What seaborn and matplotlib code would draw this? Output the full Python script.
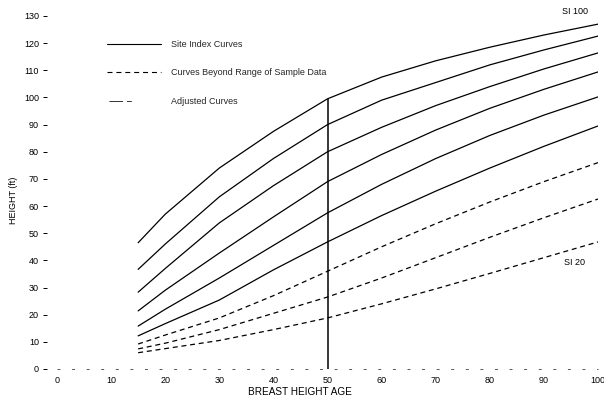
import matplotlib
matplotlib.use("Agg")
import matplotlib.pyplot as plt
from matplotlib.lines import Line2D
import seaborn as sns
import pandas as pd

sns.set_theme(style="white")
plt.rcParams['font.family'] = ['Liberation Sans', 'DejaVu Sans']

ages = [15, 20, 30, 40, 50, 60, 70, 80, 90, 100]
site_index = [100, 90, 80, 70, 60, 50, 40, 30, 20]
curve_type = ["Site Index Curves"] * 6 + ["Curves Beyond Range of Sample Data"] * 3
heights = {
    100: [46.5, 57.0, 74.0, 87.5, 99.5, 107.5, 113.5, 118.5, 123.0, 127.0],
    90:  [36.7, 46.0, 63.4, 77.5, 90.0, 99.0, 105.5, 112.0, 117.5, 122.6],
    80:  [28.3, 37.0, 53.8, 67.5, 80.0, 89.0, 97.0, 104.0, 110.5, 116.4],
    70:  [21.4, 29.0, 42.7, 56.0, 69.0, 79.0, 88.0, 96.0, 103.0, 109.4],
    60:  [15.8, 22.0, 33.5, 45.5, 57.5, 68.0, 77.5, 86.0, 93.5, 100.2],
    50:  [12.2, 16.7, 25.4, 36.5, 46.8, 56.5, 65.5, 74.0, 82.0, 89.5],
    40:  [9.2, 12.5, 18.8, 27.0, 36.0, 45.0, 53.5, 61.5, 69.0, 76.0],
    30:  [7.4, 9.5, 14.5, 20.5, 26.5, 33.5, 41.0, 48.5, 55.7, 62.6],
    20:  [6.0, 7.5, 10.5, 14.5, 18.8, 24.0, 29.5, 35.2, 41.0, 46.8],
}
legend_labels = ["Site Index Curves", "Curves Beyond Range of Sample Data", "Adjusted Curves"]
x_ticks = list(range(0, 101, 10))
y_ticks = list(range(0, 131, 10))
reference_age = 50

rows = []
for si, ctype in zip(site_index, curve_type):
    for a, h in zip(ages, heights[si]):
        rows.append({"age": a, "height": h, "si": si, "type": ctype})
df = pd.DataFrame(rows)

fig = plt.figure(figsize=(6.04, 3.96), dpi=100)
ax = fig.add_axes([57 / 604, 1 - 369 / 396, 541 / 604, 353 / 396])

sns.lineplot(data=df, x="age", y="height", units="si", estimator=None,
             style="type", style_order=legend_labels[:2],
             dashes={legend_labels[0]: "", legend_labels[1]: (4, 3)},
             color="black", linewidth=0.9, legend=False, ax=ax)

ax.vlines(reference_age, 0, heights[100][ages.index(reference_age)], color="black", linewidth=1.1)
ax.axhline(0, color="#555555", linewidth=0.7, linestyle=(0, (3, 12)), clip_on=False)

ax.set_xlim(0, 100)
ax.set_ylim(0, 130)
ax.set_xticks(x_ticks)
ax.set_yticks(y_ticks)
ax.tick_params(axis="x", length=0, pad=5, labelsize=6.5, colors="black")
ax.tick_params(axis="y", length=3, width=0.7, pad=3, labelsize=6.5, colors="black", left=True, direction="out")
for s in ax.spines.values():
    s.set_visible(False)
ax.spines["left"].set_position(("outward", 7))
ax.set_xlabel("")
ax.set_ylabel("")
ax.grid(False)

fig.text(300 / 604, 1 - 392 / 396, "BREAST HEIGHT AGE", ha="center", va="center", fontsize=7.2, color="black")
fig.text(14 / 604, 1 - 200 / 396, "HEIGHT (ft)", ha="center", va="center", rotation=90, fontsize=6.5, color="black")
ax.text(95.7, 131.5, "SI 100", ha="center", va="center", fontsize=6.5, color="black", clip_on=False)
ax.text(95.7, 39.4, "SI 20", ha="center", va="center", fontsize=6.5, color="black")

handles = [
    Line2D([], [], color="black", linewidth=0.8),
    Line2D([], [], color="black", linewidth=0.8, linestyle=(0, (4.5, 3.5))),
    Line2D([], [], color="#333333", linewidth=0.7, linestyle=(-2, (14, 4, 5, 100))),
]
leg = ax.legend(handles, legend_labels, loc="upper left", bbox_to_anchor=(0.078, 0.955),
                frameon=False, fontsize=6.5, handlelength=6.0, handletextpad=1.1,
                labelspacing=2.15)

fig.savefig("out.png", dpi=100)
